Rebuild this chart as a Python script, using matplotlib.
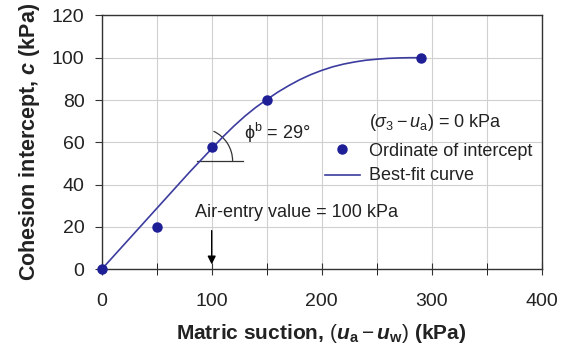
import matplotlib
matplotlib.use("Agg")
import matplotlib.pyplot as plt
from matplotlib.patches import Arc
import numpy as np

plt.rcParams['font.family'] = ['Liberation Sans', 'DejaVu Sans']
plt.rcParams['mathtext.fontset'] = 'custom'
plt.rcParams['mathtext.rm'] = 'Liberation Sans'
plt.rcParams['mathtext.it'] = 'Liberation Sans:italic'
plt.rcParams['mathtext.bf'] = 'Liberation Sans:bold'
plt.rcParams['mathtext.bfit'] = 'Liberation Sans:bold:italic'
plt.rcParams['mathtext.sf'] = 'Liberation Sans'

# data points (ordinate of intercept)
suction_pts = [0, 50, 100, 150, 290]
cohesion_pts = [0, 20, 58, 80, 100]

# best-fit curve
curve_x = [0, 20, 40, 60, 80, 100, 110, 120, 130, 140, 150, 160, 170, 180, 190,
           200, 210, 220, 230, 240, 250, 260, 270, 280, 290]
curve_y = [0, 11.5, 23, 34.5, 46, 57, 62.5, 67.6, 72.3, 76.5, 80.2, 83.7, 86.8, 89.6, 92.0,
           94.0, 95.7, 97.0, 98.0, 98.8, 99.3, 99.7, 99.9, 100, 100]

xticks = [0, 100, 200, 300, 400]
yticks = [0, 20, 40, 60, 80, 100, 120]

fig = plt.figure(figsize=(5.66, 3.45), dpi=100)
ax = fig.add_axes([101.7/566, 1-269.3/345, 440/566, 253.9/345])

ax.set_xlim(0, 400)
ax.set_ylim(0, 120)
ax.set_xticks(xticks)
ax.set_yticks(yticks)
ax.set_xticks(np.arange(0, 401, 50), minor=True)
ax.set_yticks(yticks, minor=True)
ax.grid(True, which='both', color='#d0d0d0', lw=0.8)
ax.set_axisbelow(True)
ax.tick_params(axis='both', labelsize=14, colors='#333333', labelcolor='#222222', width=0.8)
ax.tick_params(axis='x', which='both', direction='inout', length=8, pad=13)
ax.tick_params(axis='y', which='both', direction='out', length=5, pad=7.4)
for s in ax.spines.values():
    s.set_color('#333333')
    s.set_linewidth(1.0)

ax.plot(curve_x, curve_y, color='#3c3ca0', lw=1.2, clip_on=False, zorder=3)
ax.plot(suction_pts, cohesion_pts, 'o', color='#1e1e96', ms=6.5, clip_on=False, zorder=4)

ax.set_xlabel(r'Matric suction, $(\boldsymbol{u}_\mathbf{a}-\boldsymbol{u}_\mathbf{w})$ (kPa)',
              fontsize=15, fontweight='bold', color='#222222', labelpad=8.5)
ax.set_ylabel(r'Cohesion intercept, $\boldsymbol{c}$ (kPa)',
              fontsize=15.5, fontweight='bold', color='#222222', labelpad=7)

# angle annotation
ax.plot([86.4, 128.2], [51.2, 51.2], color='#333333', lw=0.9)
ax.add_patch(Arc((89, 51.2), 60, 31, theta1=0, theta2=48, color='#333333', lw=0.9))
ax.text(129, 64.3, r'$\mathrm{\phi}^\mathrm{b}$ = 29°', fontsize=13, color='#222222', va='center')

# legend-like texts
ax.text(243, 69.3, r'$(\sigma_3 - u_\mathrm{a})$ = 0 kPa', fontsize=13, color='#222222', va='center')
ax.plot([218], [56.7], 'o', color='#1e1e96', ms=6.5)
ax.text(243, 55.6, 'Ordinate of intercept', fontsize=13, color='#222222', va='center')
ax.plot([203, 235], [44.6, 44.6], color='#3c3ca0', lw=1.2)
ax.text(243, 44.1, 'Best-fit curve', fontsize=13, color='#222222', va='center')

ax.text(84.8, 26.7, 'Air-entry value = 100 kPa', fontsize=13, color='#222222', va='center')
ax.annotate('', xy=(100, 1), xytext=(100, 19.6),
            arrowprops=dict(arrowstyle='-|>', color='black', lw=1.0, mutation_scale=12))

fig.savefig('out.png', dpi=100)
